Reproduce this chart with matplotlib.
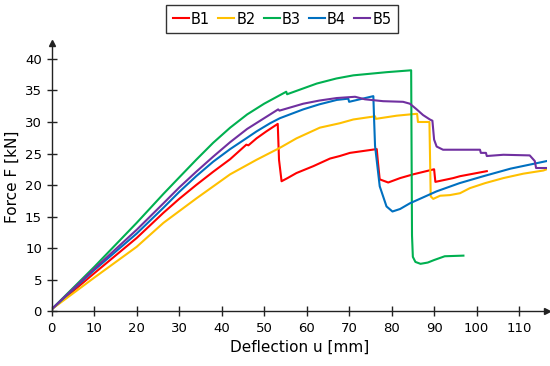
import matplotlib
matplotlib.use("Agg")
import matplotlib.pyplot as plt

plt.rcParams['font.family'] = ['DejaVu Sans']

# ---- data ----
b1_x = [0, 10, 20, 26.3, 30, 34, 38, 42, 45.8, 46.3, 48.2, 50.5, 53.2, 53.5, 54.1, 55.5, 57.6, 61.6, 65.5, 67.8, 70.2, 76.5, 76.8, 77.2, 79.2, 82.0, 85.1, 90.0, 90.3, 94.5, 96.1, 102.4]
b1_f = [0.3, 6.0, 11.6, 15.6, 17.8, 20.0, 22.1, 24.1, 26.4, 26.3, 27.4, 28.5, 29.7, 24.0, 20.6, 21.1, 21.9, 23.0, 24.2, 24.6, 25.1, 25.7, 23.5, 20.9, 20.4, 21.1, 21.7, 22.5, 20.5, 21.1, 21.4, 22.2]

b2_x = [0, 10, 20, 26.3, 34.1, 42, 48.2, 53.7, 57.6, 63.1, 67.8, 71.0, 76.1, 76.3, 81.2, 84.3, 86.0, 86.2, 88.9, 89.2, 89.8, 91.4, 93.7, 96.1, 98.4, 102.0, 106.3, 111.0, 115.7, 116.5]
b2_f = [0.3, 5.3, 10.2, 14.0, 17.9, 21.7, 24.0, 25.9, 27.4, 29.1, 29.8, 30.4, 30.9, 30.5, 31.0, 31.2, 31.3, 30.0, 30.0, 18.2, 17.8, 18.3, 18.4, 18.7, 19.5, 20.3, 21.1, 21.8, 22.3, 22.5]

b3_x = [0, 10, 20, 26.3, 30, 34, 38, 42, 46, 50, 55.2, 55.4, 62.4, 67, 71, 78.8, 84.6, 84.8, 85.0, 85.6, 86.8, 88.5, 90.0, 92.5, 96.9]
b3_f = [0.3, 7.0, 14.0, 18.6, 21.2, 24.0, 26.7, 29.1, 31.2, 32.9, 34.8, 34.4, 36.1, 36.9, 37.4, 37.9, 38.2, 12.0, 8.6, 7.8, 7.5, 7.7, 8.1, 8.7, 8.8]

b4_x = [0, 10, 20, 26.3, 30, 34, 38, 42, 46, 48.2, 51.4, 53.7, 59.2, 63, 67.1, 69.8, 70.0, 75.7, 75.9, 76.1, 77.2, 78.8, 80.2, 82.0, 84.3, 90.6, 96.0, 101.6, 108.0, 116.5]
b4_f = [0.3, 6.5, 12.3, 16.4, 18.9, 21.4, 23.7, 25.7, 27.5, 28.5, 29.8, 30.6, 32.0, 32.8, 33.5, 33.7, 33.2, 34.1, 30.0, 26.2, 19.8, 16.6, 15.8, 16.2, 17.1, 19.0, 20.3, 21.4, 22.6, 23.8]

b5_x = [0, 10, 20, 26.3, 30, 34, 38, 42, 46, 50, 53.3, 53.6, 59.2, 63, 67.1, 71.4, 73.7, 78.0, 82.7, 84.3, 85.9, 87.4, 89.0, 89.6, 90.0, 90.6, 92.1, 100.8, 101.0, 102.2, 102.4, 106.3, 112.5, 113.7, 114.0, 116.5]
b5_f = [0.3, 6.7, 12.9, 17.1, 19.6, 22.1, 24.5, 26.8, 28.9, 30.6, 32.0, 31.8, 32.9, 33.4, 33.8, 34.0, 33.6, 33.3, 33.2, 32.9, 32.0, 31.1, 30.4, 30.2, 27.2, 26.1, 25.6, 25.6, 25.1, 25.1, 24.6, 24.8, 24.7, 23.8, 22.7, 22.7]

series_names = ["B1", "B2", "B3", "B4", "B5"]
colors = ["#FF0000", "#FFC000", "#00B050", "#0070C0", "#7030A0"]
x_ticks = list(range(0, 111, 10))
y_ticks = list(range(0, 41, 5))

fig = plt.figure(figsize=(5.5, 3.66), dpi=100)
ax = fig.add_axes([0.094, 0.150, 0.900, 0.732])

data = [(b1_x, b1_f), (b2_x, b2_f), (b3_x, b3_f), (b4_x, b4_f), (b5_x, b5_f)]
for (xs, fs), name, c in zip(data, series_names, colors):
    ax.plot(xs, fs, color=c, lw=1.5, label=name, solid_joinstyle='round')

ax.set_xlim(0, 116.5)
ax.set_ylim(0, 42.5)
ax.set_xticks(x_ticks)
ax.set_yticks(y_ticks)
for s in ("top", "right"):
    ax.spines[s].set_visible(False)
for s in ("left", "bottom"):
    ax.spines[s].set_linewidth(1.0)
    ax.spines[s].set_color("#222222")
ax.tick_params(direction="inout", length=7, width=1.0, colors="#222222", labelsize=9.5, labelcolor="black")
ax.tick_params(axis="x", pad=4)
ax.plot(1, 0, ">", color="#222222", ms=4, transform=ax.transAxes, clip_on=False)
ax.plot(0, 1, "^", color="#222222", ms=4, transform=ax.transAxes, clip_on=False)

ax.set_xlabel("Deflection u [mm]", fontsize=11)
ax.set_ylabel("Force F [kN]", fontsize=11)

leg = fig.legend(loc="center", bbox_to_anchor=(0.513, 0.948), ncol=5, frameon=True, fancybox=False,
                 edgecolor="black", fontsize=10.5, handlelength=1.1, handletextpad=0.15,
                 columnspacing=0.55, borderpad=0.45)
leg.get_frame().set_linewidth(1.0)

fig.savefig("out.png", dpi=100)
